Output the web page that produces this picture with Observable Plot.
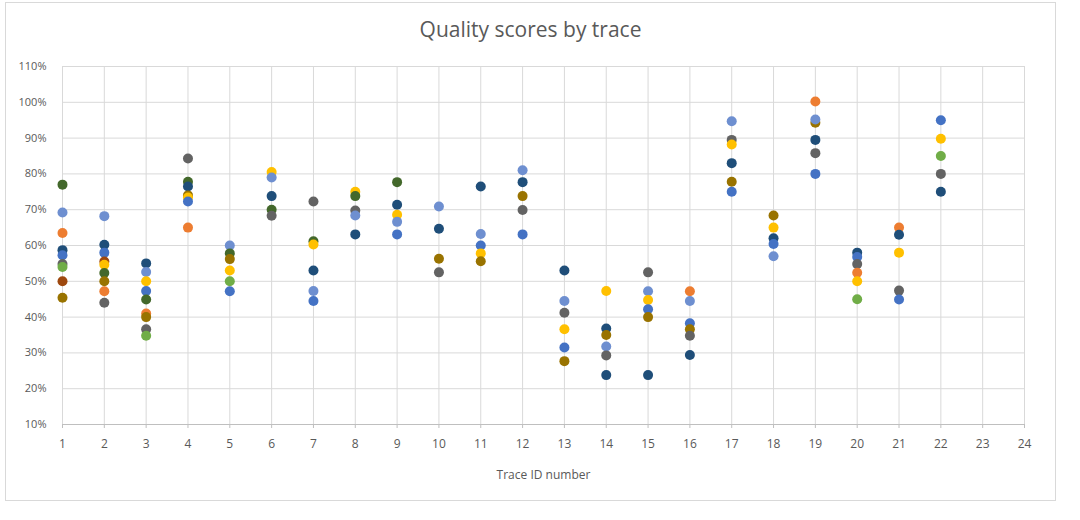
<!DOCTYPE html>
<html>
<head>
<meta charset="utf-8">
<script src="https://cdn.jsdelivr.net/npm/d3@7"></script>
<script src="https://cdn.jsdelivr.net/npm/@observablehq/plot@0.6"></script>
<style>
  body { margin: 0; background: #fff; font-family: "Open Sans", sans-serif; }
  #frame { position: absolute; left: 5px; top: 2px; width: 1049px; height: 497px; border: 1px solid #d9d9d9; background: #fff; }
  #title { position: absolute; left: 0; width: 100%; top: 12px; text-align: center; font-size: 21px; color: #595959; }
  #chart { position: absolute; left: 0; top: 48px; }
</style>
</head>
<body>
<div id="frame">
  <div id="title">Quality scores by trace</div>
  <div id="chart"></div>
</div>
<script>
const xTicks = [1,2,3,4,5,6,7,8,9,10,11,12,13,14,15,16,17,18,19,20,21,22,23,24];
const yTicks = [10,20,30,40,50,60,70,80,90,100,110];

const seriesNames  = ["S-blue","S-lightBlue","S-darkBlue","S-orange","S-yellow","S-green","S-darkGreen","S-olive","S-darkGray","S-brown"];
const seriesColors = ["#4472C4","#6E8FD0","#1F4E79","#ED7D31","#FFC000","#70AD47","#43682B","#997300","#636363","#9E480E"];

const trace = [
  1,1,1,1,1,1,1,1,1,
  2,2,2,2,2,2,2,2,2,
  3,3,3,3,3,3,3,3,3,
  4,4,4,4,4,4,4,
  5,5,5,5,5,5,
  6,6,6,6,6,
  7,7,7,7,7,7,
  8,8,8,8,8,
  9,9,9,9,9,
  10,10,10,10,
  11,11,11,11,11,
  12,12,12,12,12,
  13,13,13,13,13,13,
  14,14,14,14,14,14,
  15,15,15,15,15,15,
  16,16,16,16,16,16,
  17,17,17,17,17,17,
  18,18,18,18,18,
  19,19,19,19,19,19,
  20,20,20,20,20,20,
  21,21,21,21,21,
  22,22,22,22,22
];
const score = [
  77, 69.2, 63.5, 58.7, 57.3, 54.8, 54, 50, 45.4,
  68.2, 60.2, 58, 55.5, 54.6, 52.3, 50, 47.2, 44,
  55, 52.6, 50, 47.3, 44.9, 41, 40, 36.6, 34.8,
  84.3, 77.8, 76.5, 74, 73.4, 72.3, 65,
  60, 57.8, 56.2, 53, 50, 47.2,
  80.5, 79, 73.8, 70, 68.3,
  72.3, 61.2, 60.3, 53, 47.3, 44.5,
  75, 73.8, 69.8, 68.4, 63.1,
  77.7, 71.4, 68.6, 66.6, 63.1,
  70.9, 64.7, 56.3, 52.5,
  76.5, 63.2, 60, 57.8, 55.6,
  81, 77.7, 73.8, 69.9, 63.1,
  53, 44.5, 41.2, 36.6, 31.5, 27.7,
  47.3, 36.8, 35, 31.8, 29.3, 23.8,
  52.5, 47.2, 44.8, 42.2, 40, 23.8,
  47.2, 44.5, 38.3, 36.6, 34.8, 29.4,
  94.7, 89.5, 88.2, 83, 77.8, 75,
  68.4, 65, 62, 60.4, 57,
  100.2, 94.3, 95.2, 89.5, 85.8, 80,
  58, 56.8, 54.8, 52.4, 50, 45,
  65, 63, 58, 47.4, 44.9,
  95, 89.8, 85, 80, 75
];
const series = [
  "S-darkGreen","S-lightBlue","S-orange","S-darkBlue","S-blue","S-darkGray","S-green","S-brown","S-olive",
  "S-lightBlue","S-darkBlue","S-blue","S-brown","S-yellow","S-darkGreen","S-olive","S-orange","S-darkGray",
  "S-darkBlue","S-lightBlue","S-yellow","S-blue","S-darkGreen","S-orange","S-olive","S-darkGray","S-green",
  "S-darkGray","S-darkGreen","S-darkBlue","S-olive","S-yellow","S-blue","S-orange",
  "S-lightBlue","S-darkGreen","S-olive","S-yellow","S-green","S-blue",
  "S-yellow","S-lightBlue","S-darkBlue","S-darkGreen","S-darkGray",
  "S-darkGray","S-darkGreen","S-yellow","S-darkBlue","S-lightBlue","S-blue",
  "S-yellow","S-darkGreen","S-darkGray","S-lightBlue","S-darkBlue",
  "S-darkGreen","S-darkBlue","S-yellow","S-lightBlue","S-blue",
  "S-lightBlue","S-darkBlue","S-olive","S-darkGray",
  "S-darkBlue","S-lightBlue","S-blue","S-yellow","S-olive",
  "S-lightBlue","S-darkBlue","S-olive","S-darkGray","S-blue",
  "S-darkBlue","S-lightBlue","S-darkGray","S-yellow","S-blue","S-olive",
  "S-yellow","S-darkBlue","S-olive","S-lightBlue","S-darkGray","S-darkBlue",
  "S-darkGray","S-lightBlue","S-yellow","S-blue","S-olive","S-darkBlue",
  "S-orange","S-lightBlue","S-blue","S-olive","S-darkGray","S-darkBlue",
  "S-lightBlue","S-darkGray","S-yellow","S-darkBlue","S-olive","S-blue",
  "S-olive","S-yellow","S-darkBlue","S-blue","S-lightBlue",
  "S-orange","S-olive","S-lightBlue","S-darkBlue","S-darkGray","S-blue",
  "S-darkBlue","S-blue","S-darkGray","S-orange","S-yellow","S-green",
  "S-orange","S-darkBlue","S-yellow","S-darkGray","S-blue",
  "S-blue","S-yellow","S-green","S-darkGray","S-darkBlue"
];

const data = trace.map((t, i) => ({trace: t, score: score[i], series: series[i]}));

const chart = Plot.plot({
  width: 1049,
  height: 446,
  marginLeft: 56,
  marginRight: 31,
  marginTop: 15,
  marginBottom: 73,
  style: {fontFamily: "Open Sans, sans-serif", fontSize: "12px", color: "#595959", background: "transparent"},
  x: {domain: [1, 24]},
  y: {domain: [10, 110]},
  color: {type: "ordinal", domain: seriesNames, range: seriesColors},
  marks: [
    Plot.gridX(xTicks, {stroke: "#d9d9d9", strokeOpacity: 1}),
    Plot.gridY(yTicks, {stroke: "#d9d9d9", strokeOpacity: 1}),
    Plot.ruleY([10], {stroke: "#bfbfbf"}),
    Plot.axisX(xTicks, {tickSize: 4, tickPadding: 11, stroke: "#bfbfbf", fill: "#595959",
      label: "Trace ID number", labelAnchor: "center", labelArrow: "none", labelOffset: 54}),
    Plot.axisY(yTicks, {tickSize: 0, tickPadding: 16, fill: "#595959", fontSize: 11,
      tickFormat: d => d + "%", label: null}),
    Plot.dot(data, {x: "trace", y: "score", fill: "series", r: 5})
  ]
});
document.getElementById("chart").appendChild(chart);
</script>
</body>
</html>
